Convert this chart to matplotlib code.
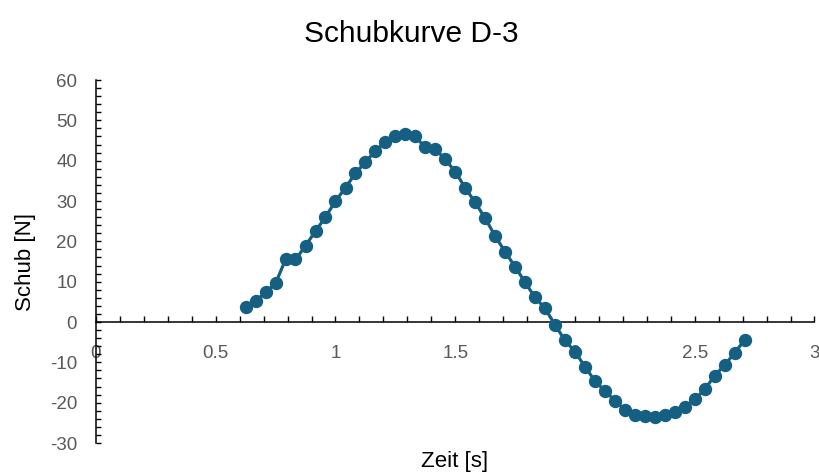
import matplotlib
matplotlib.use("Agg")
import matplotlib.pyplot as plt
from matplotlib.ticker import MultipleLocator

plt.rcParams['font.family'] = ['Liberation Sans', 'DejaVu Sans']
plt.rcParams['axes.unicode_minus'] = False

title = "Schubkurve D-3"
x_label = "Zeit [s]"
y_label = "Schub [N]"

zeit = [0.625, 0.667, 0.708, 0.750, 0.792, 0.833, 0.875, 0.917, 0.958, 1.000,
        1.042, 1.083, 1.125, 1.167, 1.208, 1.250, 1.292, 1.333, 1.375, 1.417,
        1.458, 1.500, 1.542, 1.583, 1.625, 1.667, 1.708, 1.750, 1.792, 1.833,
        1.875, 1.917, 1.958, 2.000, 2.042, 2.083, 2.125, 2.167, 2.208, 2.250,
        2.292, 2.333, 2.375, 2.417, 2.458, 2.500, 2.542, 2.583, 2.625, 2.667,
        2.708]
schub = [3.8, 5.2, 7.4, 9.6, 15.6, 15.5, 18.9, 22.6, 26.0, 30.0,
         33.3, 36.9, 39.6, 42.5, 44.6, 46.2, 46.6, 46.0, 43.3, 42.9,
         40.3, 37.3, 33.2, 29.7, 25.7, 21.3, 17.4, 13.7, 9.8, 6.1,
         3.4, -0.8, -4.5, -7.4, -11.1, -14.6, -17.1, -19.5, -21.7, -23.1,
         -23.3, -23.5, -23.1, -22.3, -21.0, -19.2, -16.7, -13.3, -10.7, -7.6,
         -4.5]

x_ticks = [0, 0.5, 1, 1.5, 2, 2.5, 3]
x_ticklabels = ["0", "0.5", "1", "1.5", "2", "2.5", "3"]
y_ticks = [-30, -20, -10, 0, 10, 20, 30, 40, 50, 60]

color = "#156082"
tick_color = "#595959"

fig = plt.figure(figsize=(8.19, 4.76), dpi=100)
ax = fig.add_axes([0.1172, 0.0693, 0.8773, 0.7626])

ax.plot(zeit, schub, color=color, lw=2.3, marker='o', markersize=8.6,
        markerfacecolor=color, markeredgecolor=color, zorder=3, clip_on=False)

ax.set_xlim(0, 3)
ax.set_ylim(-30, 60)

for s in ['top', 'right']:
    ax.spines[s].set_visible(False)
ax.spines['bottom'].set_position(('data', 0))
ax.spines['left'].set_position(('data', 0))
for s in ['bottom', 'left']:
    ax.spines[s].set_color('black')
    ax.spines[s].set_linewidth(1.1)

ax.set_xticks(x_ticks)
ax.set_xticklabels(x_ticklabels)
ax.set_yticks(y_ticks)
ax.xaxis.set_minor_locator(MultipleLocator(0.1))
ax.yaxis.set_minor_locator(MultipleLocator(2))

ax.tick_params(axis='x', which='both', direction='in', length=4.5, width=1.0,
               color='black', pad=16.5, labelsize=13.5, labelcolor=tick_color)
ax.tick_params(axis='y', which='both', direction='in', length=3.5, width=1.0,
               color='black', pad=13.5, labelsize=13.5, labelcolor=tick_color)

fig.text(411 / 819, 1 - 34 / 476, title, ha='center', va='center', fontsize=21.5, color='black')
fig.text(455 / 819, 1 - 462 / 476, x_label, ha='center', va='center', fontsize=16, color='black')
fig.text(25 / 819, 1 - 262 / 476, y_label, ha='center', va='center', fontsize=16,
         color='black', rotation=90)

fig.savefig("out.png", dpi=100)
